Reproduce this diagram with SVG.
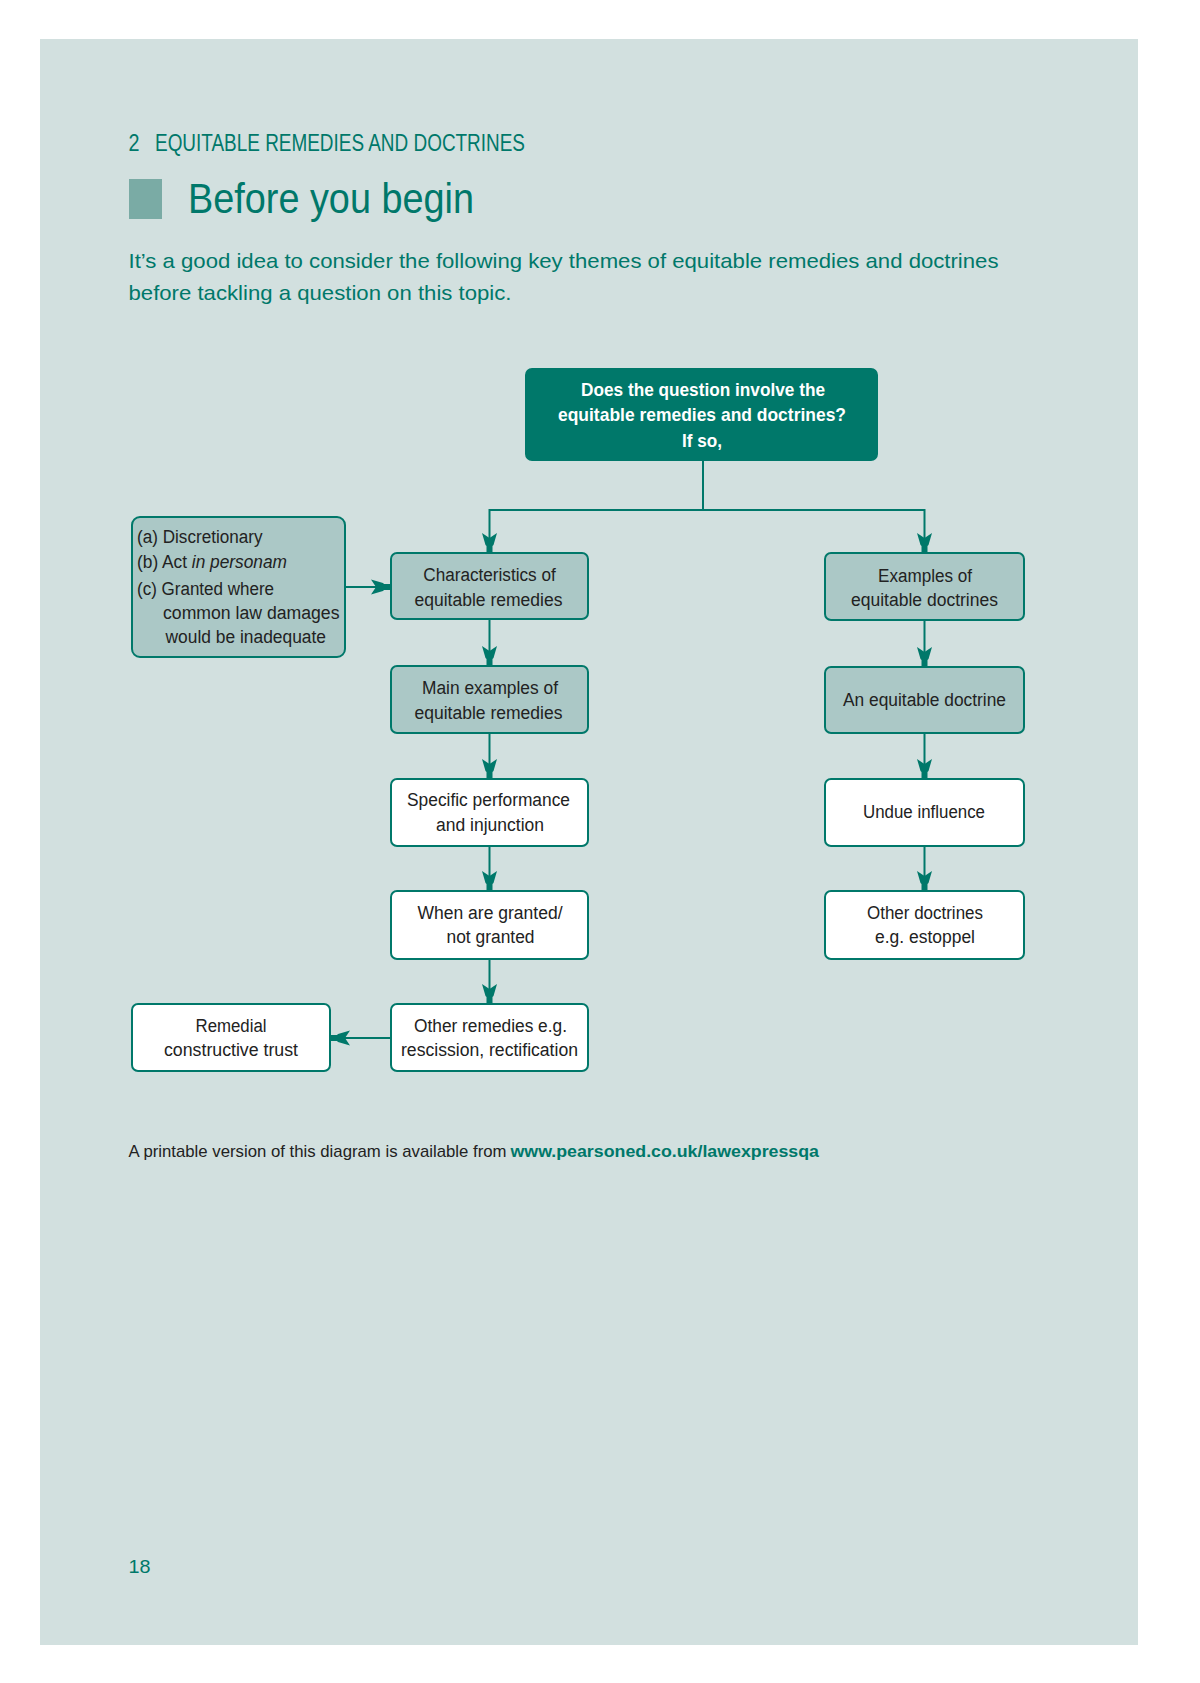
<svg xmlns="http://www.w3.org/2000/svg" width="1200" height="1683" viewBox="0 0 1200 1683">
<style>
.page{fill:#d2e0df}
.teal{fill:#00786a}
.hd{font-family:"Liberation Sans",Arial,sans-serif;fill:#00786a}
.box{stroke:#00786a;stroke-width:2}
.mid{fill:#abc8c6}
.wht{fill:#ffffff}
.top{fill:#00786a;stroke:#00786a;stroke-width:2}
.t{font-family:"Liberation Sans",Arial,sans-serif;font-size:18px;fill:#222222}
.tc{text-anchor:middle}
.tw{font-family:"Liberation Sans",Arial,sans-serif;font-size:19px;font-weight:bold;fill:#ffffff;text-anchor:middle}
.edge{fill:none;stroke:#00786a;stroke-width:2}
</style>
<defs>
<marker id="arr" viewBox="-21 -8 22 16" refX="0" refY="0" markerWidth="22" markerHeight="16" markerUnits="userSpaceOnUse" orient="auto">
<path d="M-20,-7.5 L-15,0 L-20,7.5 L-8,4 L-7,3 L0,3 L0,-3 L-7,-3 L-8,-4 Z" fill="#00786a"/>
</marker>
</defs>
<rect x="0" y="0" width="1200" height="1683" fill="#ffffff"/>
<rect class="page" x="40" y="39" width="1098" height="1606"/>

<g id="header">
<text class="hd" x="128.5" y="150.5" font-size="24" textLength="11" lengthAdjust="spacingAndGlyphs">2</text>
<text class="hd" x="155" y="150.5" font-size="24" textLength="370" lengthAdjust="spacingAndGlyphs">EQUITABLE REMEDIES AND DOCTRINES</text>
<rect x="129" y="179" width="33" height="40" fill="#7aaba5"/>
<text class="hd" x="188" y="213" font-size="42" textLength="286" lengthAdjust="spacingAndGlyphs">Before you begin</text>
<text class="hd" x="128.5" y="268" font-size="21" textLength="870" lengthAdjust="spacingAndGlyphs">It’s a good idea to consider the following key themes of equitable remedies and doctrines</text>
<text class="hd" x="128.5" y="300" font-size="21" textLength="383" lengthAdjust="spacingAndGlyphs">before tackling a question on this topic.</text>
</g>

<g id="connectors">
<path class="edge" d="M703,460 V510 H489.5 V553" marker-end="url(#arr)"/>
<path class="edge" d="M703,510 H924.5 V553" marker-end="url(#arr)"/>
<path class="edge" d="M345,587 H391" marker-end="url(#arr)"/>
<path class="edge" d="M489.5,619 V666" marker-end="url(#arr)"/>
<path class="edge" d="M489.5,733 V779" marker-end="url(#arr)"/>
<path class="edge" d="M489.5,846 V891" marker-end="url(#arr)"/>
<path class="edge" d="M489.5,959 V1004" marker-end="url(#arr)"/>
<path class="edge" d="M391,1038 H330" marker-end="url(#arr)"/>
<path class="edge" d="M924.5,620 V667" marker-end="url(#arr)"/>
<path class="edge" d="M924.5,733 V779" marker-end="url(#arr)"/>
<path class="edge" d="M924.5,846 V891" marker-end="url(#arr)"/>
</g>

<g id="n-question">
<rect class="top" x="526" y="369" width="351" height="91" rx="6"/>
<text class="tw" x="703" y="396" textLength="244" lengthAdjust="spacingAndGlyphs">Does the question involve the</text>
<text class="tw" x="702" y="421" textLength="288" lengthAdjust="spacingAndGlyphs">equitable remedies and doctrines?</text>
<text class="tw" x="702" y="447" textLength="40" lengthAdjust="spacingAndGlyphs">If so,</text>
</g>

<g id="n-features">
<rect class="box mid" x="132" y="517" width="213" height="140" rx="8"/>
<text class="t" x="137" y="543" textLength="125.5" lengthAdjust="spacingAndGlyphs">(a) Discretionary</text>
<text class="t" x="137" y="568" textLength="150" lengthAdjust="spacingAndGlyphs">(b) Act <tspan font-style="italic">in personam</tspan></text>
<text class="t" x="137" y="595" textLength="137" lengthAdjust="spacingAndGlyphs">(c) Granted where</text>
<text class="t" x="163" y="619" textLength="176.5" lengthAdjust="spacingAndGlyphs">common law damages</text>
<text class="t" x="165.5" y="643" textLength="160.5" lengthAdjust="spacingAndGlyphs">would be inadequate</text>
</g>

<g id="n-characteristics">
<rect class="box mid" x="391" y="553" width="197" height="66" rx="6"/>
<text class="t tc" x="489.5" y="581" textLength="132.5" lengthAdjust="spacingAndGlyphs">Characteristics of</text>
<text class="t tc" x="488.5" y="606" textLength="148" lengthAdjust="spacingAndGlyphs">equitable remedies</text>
</g>

<g id="n-main-examples">
<rect class="box mid" x="391" y="666" width="197" height="67" rx="6"/>
<text class="t tc" x="490" y="694" textLength="136" lengthAdjust="spacingAndGlyphs">Main examples of</text>
<text class="t tc" x="488.5" y="719" textLength="148" lengthAdjust="spacingAndGlyphs">equitable remedies</text>
</g>

<g id="n-specific">
<rect class="box wht" x="391" y="779" width="197" height="67" rx="6"/>
<text class="t tc" x="488.5" y="806" textLength="163" lengthAdjust="spacingAndGlyphs">Specific performance</text>
<text class="t tc" x="490" y="831" textLength="108" lengthAdjust="spacingAndGlyphs">and injunction</text>
</g>

<g id="n-when">
<rect class="box wht" x="391" y="891" width="197" height="68" rx="6"/>
<text class="t tc" x="490" y="919" textLength="145" lengthAdjust="spacingAndGlyphs">When are granted/</text>
<text class="t tc" x="490.5" y="943" textLength="88" lengthAdjust="spacingAndGlyphs">not granted</text>
</g>

<g id="n-other-remedies">
<rect class="box wht" x="391" y="1004" width="197" height="67" rx="6"/>
<text class="t tc" x="490.5" y="1032" textLength="153" lengthAdjust="spacingAndGlyphs">Other remedies e.g.</text>
<text class="t tc" x="489.5" y="1056" textLength="177" lengthAdjust="spacingAndGlyphs">rescission, rectification</text>
</g>

<g id="n-remedial">
<rect class="box wht" x="132" y="1004" width="198" height="67" rx="6"/>
<text class="t tc" x="231" y="1032" textLength="71" lengthAdjust="spacingAndGlyphs">Remedial</text>
<text class="t tc" x="231" y="1056" textLength="134" lengthAdjust="spacingAndGlyphs">constructive trust</text>
</g>

<g id="n-examples-doctrines">
<rect class="box mid" x="825" y="553" width="199" height="67" rx="6"/>
<text class="t tc" x="925" y="582" textLength="94" lengthAdjust="spacingAndGlyphs">Examples of</text>
<text class="t tc" x="924.5" y="606" textLength="147" lengthAdjust="spacingAndGlyphs">equitable doctrines</text>
</g>

<g id="n-equitable-doctrine">
<rect class="box mid" x="825" y="667" width="199" height="66" rx="6"/>
<text class="t tc" x="924.5" y="706" textLength="163" lengthAdjust="spacingAndGlyphs">An equitable doctrine</text>
</g>

<g id="n-undue">
<rect class="box wht" x="825" y="779" width="199" height="67" rx="6"/>
<text class="t tc" x="924" y="818" textLength="122" lengthAdjust="spacingAndGlyphs">Undue influence</text>
</g>

<g id="n-other-doctrines">
<rect class="box wht" x="825" y="891" width="199" height="68" rx="6"/>
<text class="t tc" x="925" y="919" textLength="116" lengthAdjust="spacingAndGlyphs">Other doctrines</text>
<text class="t tc" x="925" y="943" textLength="100" lengthAdjust="spacingAndGlyphs">e.g. estoppel</text>
</g>

<g id="footer">
<text x="128.5" y="1157" font-family="Liberation Sans, Arial, sans-serif" font-size="17" fill="#222222" textLength="378" lengthAdjust="spacingAndGlyphs">A printable version of this diagram is available from</text>
<text x="510.5" y="1157" font-family="Liberation Sans, Arial, sans-serif" font-size="17" font-weight="bold" fill="#00786a" textLength="308.5" lengthAdjust="spacingAndGlyphs">www.pearsoned.co.uk/lawexpressqa</text>
<text class="hd" x="128.5" y="1573" font-size="19" textLength="22" lengthAdjust="spacingAndGlyphs">18</text>
</g>
</svg>
